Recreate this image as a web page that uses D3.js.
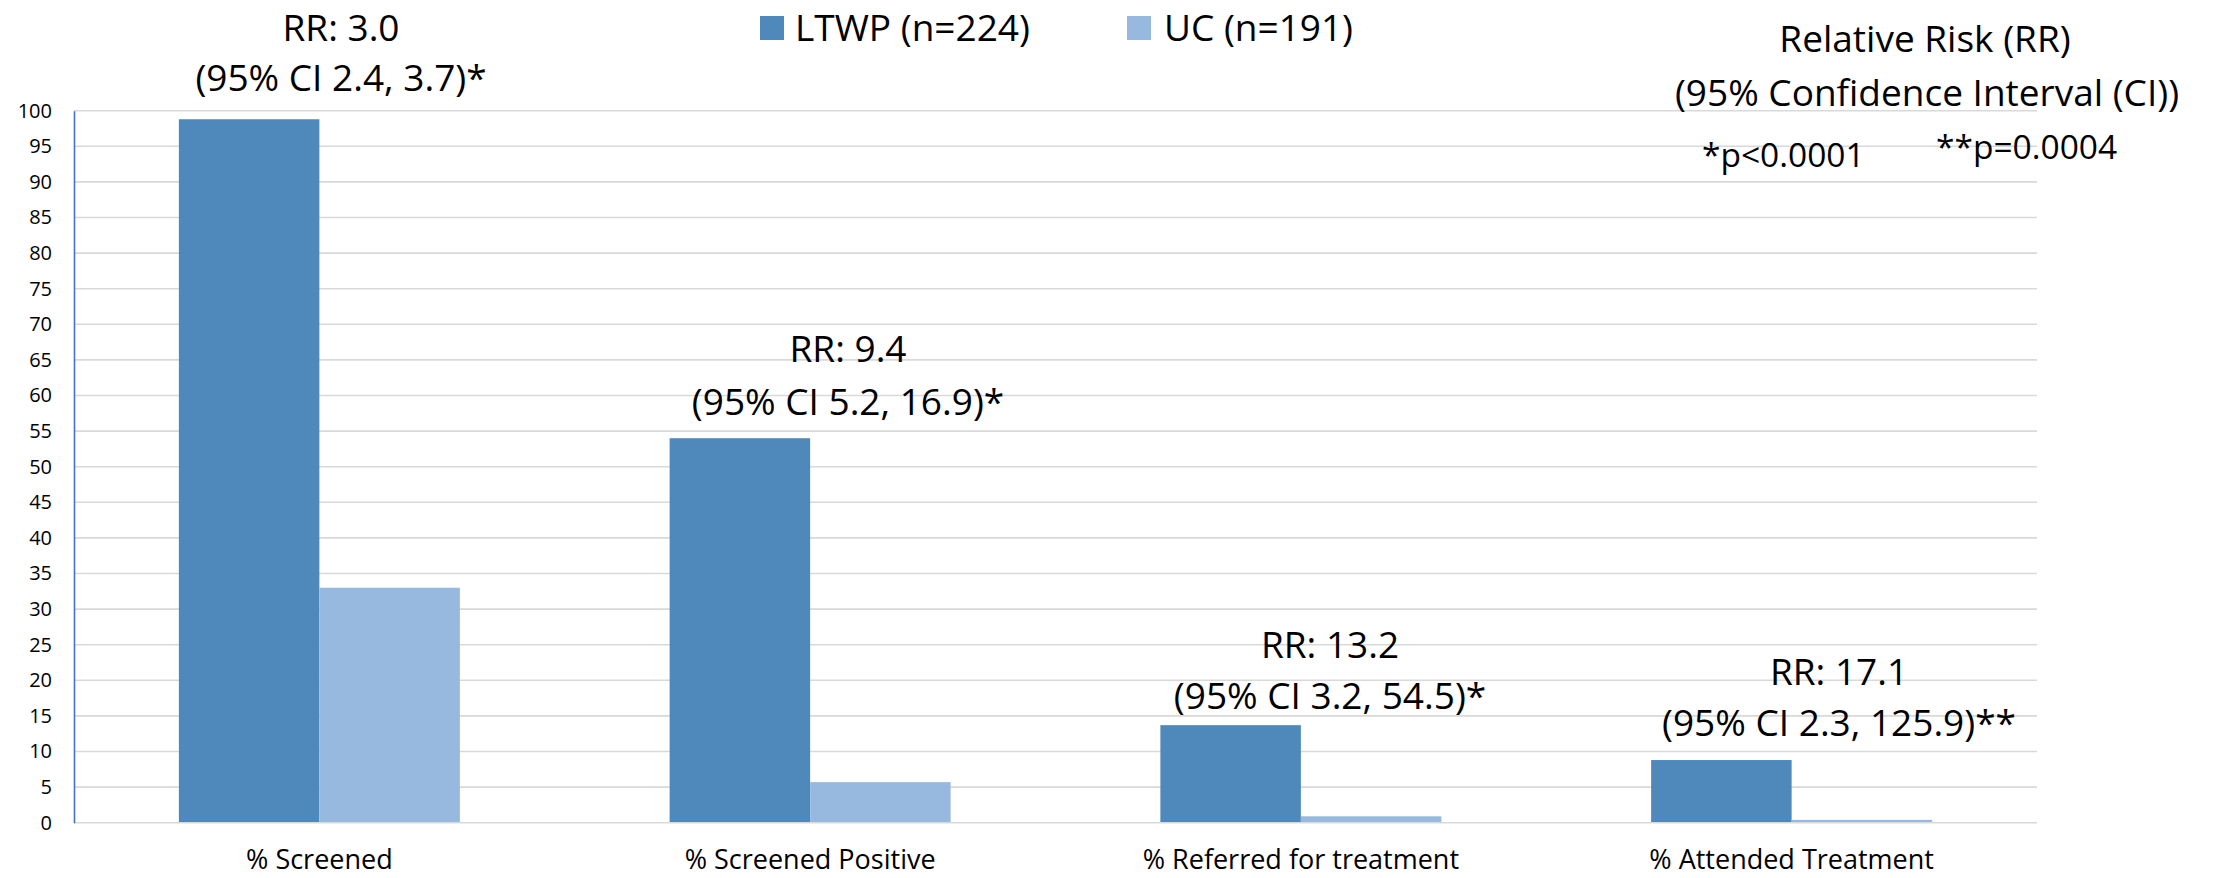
<!DOCTYPE html>
<html>
<head>
<meta charset="utf-8">
<script src="https://cdn.jsdelivr.net/npm/d3@7"></script>
<style>
  html, body { margin: 0; padding: 0; background: #ffffff; }
  svg { display: block; }
  text { font-family: "Open Sans", "Noto Sans", sans-serif; fill: #000; }
</style>
</head>
<body>
<svg id="chart" width="2218" height="878"></svg>
<script>
// ---- data ----
const categories = ["% Screened", "% Screened Positive", "% Referred for treatment", "% Attended Treatment"];
const seriesNames = ["LTWP (n=224)", "UC (n=191)"];
const ltwpValues = [98.8, 54.0, 13.7, 8.8];
const ucValues = [33.0, 5.7, 0.9, 0.4];
const yTicks = [0, 5, 10, 15, 20, 25, 30, 35, 40, 45, 50, 55, 60, 65, 70, 75, 80, 85, 90, 95, 100];
const rrLines = ["RR: 3.0", "RR: 9.4", "RR: 13.2", "RR: 17.1"];
const ciLines = ["(95% CI 2.4, 3.7)*", "(95% CI 5.2, 16.9)*", "(95% CI 3.2, 54.5)*", "(95% CI 2.3, 125.9)**"];
const noteTitle = ["Relative Risk (RR)", "(95% Confidence Interval (CI))"];
const pNotes = ["*p<0.0001", "**p=0.0004"];

// ---- layout ----
const svg = d3.select("#chart");
const plot = { left: 74, right: 2037, top: 110.7, bottom: 822.7 };
const colors = ["#4f89bb", "#98b9df"];
// annotation anchor points (centre x, baseline of first line, line gap)
const rrLayout = [
  { x: 341, y: 40.5, gap: 50 },
  { x: 848, y: 362, gap: 53 },
  { x: 1330, y: 658, gap: 51 },
  { x: 1839, y: 685, gap: 51 }
];

const x = d3.scaleBand().domain(categories).range([plot.left, plot.right])
  .paddingInner(0.4274).paddingOuter(0.2137);
const xs = d3.scaleBand().domain([0, 1]).range([0, x.bandwidth()]).padding(0);
const y = d3.scaleLinear().domain([0, 100]).range([plot.bottom, plot.top]);

// gridlines
svg.append("g").selectAll("line").data(yTicks.filter(d => d > 0)).join("line")
  .attr("x1", plot.left).attr("x2", plot.right)
  .attr("y1", d => y(d)).attr("y2", d => y(d))
  .attr("stroke", "#d9d9d9").attr("stroke-width", 1.6);

// bars
const groups = svg.append("g").selectAll("g").data(categories).join("g")
  .attr("transform", d => `translate(${x(d)},0)`);
groups.selectAll("rect")
  .data((d, i) => [ltwpValues[i], ucValues[i]])
  .join("rect")
  .attr("x", (d, j) => xs(j))
  .attr("width", xs.bandwidth())
  .attr("y", d => y(d))
  .attr("height", d => y(0) - y(d))
  .attr("fill", (d, j) => colors[j]);

// x axis baseline
svg.append("line").attr("x1", plot.left).attr("x2", plot.right)
  .attr("y1", y(0)).attr("y2", y(0)).attr("stroke", "#d9d9d9").attr("stroke-width", 1.6);

// y axis
const yAxis = d3.axisLeft(y).tickValues(yTicks).tickSize(0).tickPadding(22);
const yg = svg.append("g").attr("transform", `translate(${plot.left},0)`).call(yAxis);
yg.select(".domain").attr("stroke", "#4472c4").attr("stroke-width", 1.6);
yg.selectAll("text").style("font-size", "20px").style("font-family", "'Open Sans', sans-serif").attr("fill", "#000");

// x axis labels
const xAxis = d3.axisBottom(x).tickSize(0).tickPadding(27);
const xg = svg.append("g").attr("transform", `translate(0,${plot.bottom})`).call(xAxis);
xg.select(".domain").remove();
xg.selectAll("text").style("font-size", "27px").style("font-family", "'Open Sans', sans-serif").attr("fill", "#000");

// legend
const legendItems = [{ sx: 760, tx: 795 }, { sx: 1127, tx: 1164 }];
const lg = svg.append("g");
legendItems.forEach((p, i) => {
  lg.append("rect").attr("x", p.sx).attr("y", 16).attr("width", 24).attr("height", 24).attr("fill", colors[i]);
  lg.append("text").attr("x", p.tx).attr("y", 40.5).style("font-size", "37px").text(seriesNames[i]);
});

// RR annotations
rrLayout.forEach((p, i) => {
  svg.append("text").attr("x", p.x).attr("y", p.y).attr("text-anchor", "middle")
    .style("font-size", "37px").text(rrLines[i]);
  svg.append("text").attr("x", p.x).attr("y", p.y + p.gap).attr("text-anchor", "middle")
    .style("font-size", "37px").text(ciLines[i]);
});

// legend note at top right
svg.append("text").attr("x", 1925).attr("y", 52).attr("text-anchor", "middle")
  .style("font-size", "37px").text(noteTitle[0]);
svg.append("text").attr("x", 1927).attr("y", 106).attr("text-anchor", "middle")
  .style("font-size", "37px").text(noteTitle[1]);
svg.append("text").attr("x", 1702).attr("y", 167).style("font-size", "33.5px").text(pNotes[0]);
svg.append("text").attr("x", 1936).attr("y", 159).style("font-size", "33.5px").text(pNotes[1]);
</script>
</body>
</html>
